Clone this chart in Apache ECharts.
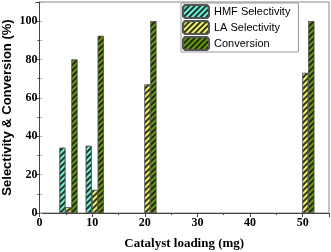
<!DOCTYPE html>
<html><head><meta charset="utf-8">
<script src="https://cdn.jsdelivr.net/npm/echarts@6/dist/echarts.min.js"></script>
<style>html,body{margin:0;padding:0;background:#fff}#c{width:331px;height:252px}</style>
</head><body><div id="c"></div>
<script>
var loadings = [5, 10, 20, 50];
var hmfSel = [34, 35, null, null];
var laSel = [3, 12, 67, 73];
var conversion = [80, 92.3, 100, 100];
var xTicks = [0, 10, 20, 30, 40, 50];
var yTicks = [0, 20, 40, 60, 80, 100];

function pairs(vals){ return loadings.map(function(x,i){ return [x, vals[i]]; }); }
function decal(){ return {symbol:'rect', symbolSize:1, color:'rgba(15,25,5,0.85)', dashArrayX:[1,0], dashArrayY:[1.3,1.9], rotation:-Math.PI/4}; }
var tickFont = {fontFamily:'Liberation Serif', fontWeight:'bold', fontSize:12, color:'#000'};
var chart = echarts.init(document.getElementById('c'), null, {renderer:'canvas'});
function mkSeries(name, vals, color){
  return {name:name, type:'bar', xAxisIndex:1, data:pairs(vals), barWidth:6, barGap:'0%',
    itemStyle:{color:color, borderColor:'#555', borderWidth:0.6, decal:decal()}};
}
chart.setOption({
  animation:false,
  aria:{enabled:false},
  grid:{left:39.5, right:2, top:2, bottom:39, containLabel:false, outerBoundsMode:'none', show:true, borderColor:'#888', borderWidth:1},
  legend:{left:181, top:3, orient:'vertical', itemWidth:26, itemHeight:13, itemGap:1,
    backgroundColor:'#fff', borderColor:'#999', borderWidth:1, padding:[1,8,1,1],
    textStyle:{fontFamily:'Liberation Sans', fontSize:11, color:'#000'},
    data:['HMF Selectivity','LA Selectivity','Conversion']},
  xAxis:[{type:'value', min:0, max:55, interval:10, name:'Catalyst loading (mg)', nameLocation:'middle', nameGap:24, nameMoveOverlap:false,
    nameTextStyle:{fontFamily:'Liberation Serif', fontWeight:'bold', fontSize:13, color:'#000'},
    axisLine:{lineStyle:{color:'#444'}}, axisTick:{show:true, length:4, lineStyle:{color:'#444'}},
    minorTick:{show:true, splitNumber:2, length:2, lineStyle:{color:'#444'}},
    splitLine:{show:false}, axisLabel:Object.assign({margin:4, showMaxLabel:false, formatter:function(v){return xTicks.indexOf(v)>=0? String(v):'';}}, tickFont)},
   {type:'value', min:-0.5, max:54.5, show:false}],
  yAxis:[{type:'value', min:0, max:110, interval:20, name:'Selectivity & Conversion (%)', nameLocation:'middle', nameGap:25.5, nameMoveOverlap:false,
    nameTextStyle:{fontFamily:'Liberation Sans', fontWeight:'bold', fontSize:13, color:'#000'},
    axisLine:{show:true, lineStyle:{color:'#444'}}, axisTick:{show:true, length:4, lineStyle:{color:'#444'}},
    minorTick:{show:true, splitNumber:2, length:2, lineStyle:{color:'#444'}},
    splitLine:{show:false}, axisLabel:Object.assign({margin:2, showMaxLabel:false, formatter:function(v){return yTicks.indexOf(v)>=0? String(v):'';}}, tickFont)},
   {type:'value', position:'right', min:0, max:110, interval:10, axisLine:{show:false},
    axisTick:{show:true, inside:true, length:2, lineStyle:{color:'#aaa'}}, axisLabel:{show:false}, splitLine:{show:false}}],
  series:[
    mkSeries('HMF Selectivity', hmfSel, '#6ff0e0'),
    mkSeries('LA Selectivity', laSel, '#f2f270'),
    mkSeries('Conversion', conversion, '#6a9a10')
  ]
});
</script></body></html>
